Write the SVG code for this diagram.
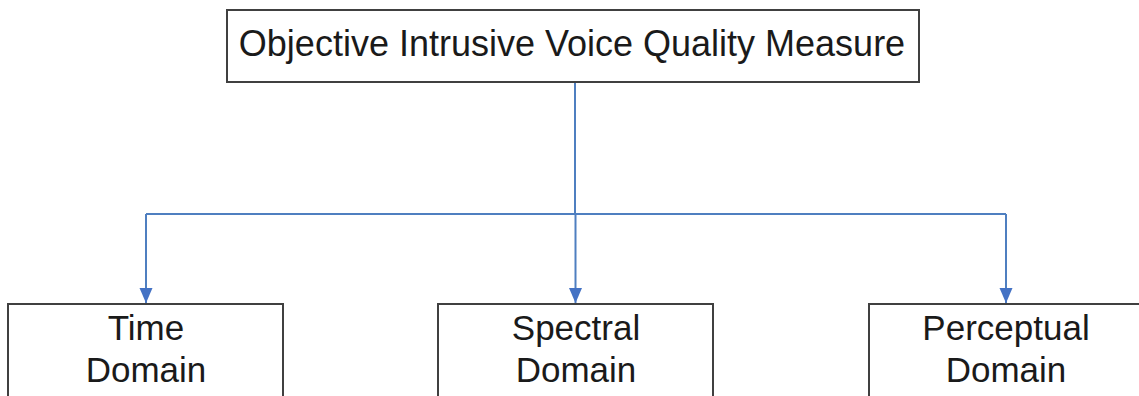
<svg xmlns="http://www.w3.org/2000/svg" width="1139" height="396" viewBox="0 0 1139 396">
  <style>
    .box { fill: #ffffff; stroke: #404040; stroke-width: 2; }
    .label { font-family: "Liberation Sans", Arial, sans-serif; fill: #1a1a1a; text-anchor: middle; }
    .title { font-size: 36px; }
    .sub { font-size: 35px; }
    .wire { fill: none; stroke: #4f7fc0; stroke-width: 2; }
  </style>
  <defs>
    <marker id="arrow" markerUnits="userSpaceOnUse" markerWidth="16" markerHeight="14" refX="15" refY="6.5" orient="auto">
      <path d="M0,0 L15,6.5 L0,13 Z" fill="#4472c4"/>
    </marker>
  </defs>
  <rect width="1139" height="396" fill="#ffffff"/>

  <g id="connectors">
    <line class="wire" x1="575" y1="82" x2="575" y2="214" stroke-width="3"/>
    <line class="wire" x1="146" y1="214" x2="1006" y2="214"/>
    <line class="wire" x1="146" y1="214" x2="146" y2="303" marker-end="url(#arrow)"/>
    <line class="wire" x1="575.5" y1="214" x2="575.5" y2="303" marker-end="url(#arrow)"/>
    <line class="wire" x1="1006" y1="214" x2="1006" y2="303" marker-end="url(#arrow)"/>
  </g>

  <g id="root">
    <rect class="box" x="227" y="10" width="692" height="72"/>
    <text class="label title" x="572" y="56">Objective Intrusive Voice Quality Measure</text>
  </g>

  <g id="time-domain">
    <rect class="box" x="8" y="304" width="275" height="110"/>
    <text class="label sub" x="146" y="340">Time</text>
    <text class="label sub" x="146" y="382">Domain</text>
  </g>

  <g id="spectral-domain">
    <rect class="box" x="438" y="304" width="275" height="110"/>
    <text class="label sub" x="576" y="340">Spectral</text>
    <text class="label sub" x="576" y="382">Domain</text>
  </g>

  <g id="perceptual-domain">
    <rect class="box" x="869" y="304" width="275" height="110"/>
    <text class="label sub" x="1006" y="340">Perceptual</text>
    <text class="label sub" x="1006" y="382">Domain</text>
  </g>
</svg>
